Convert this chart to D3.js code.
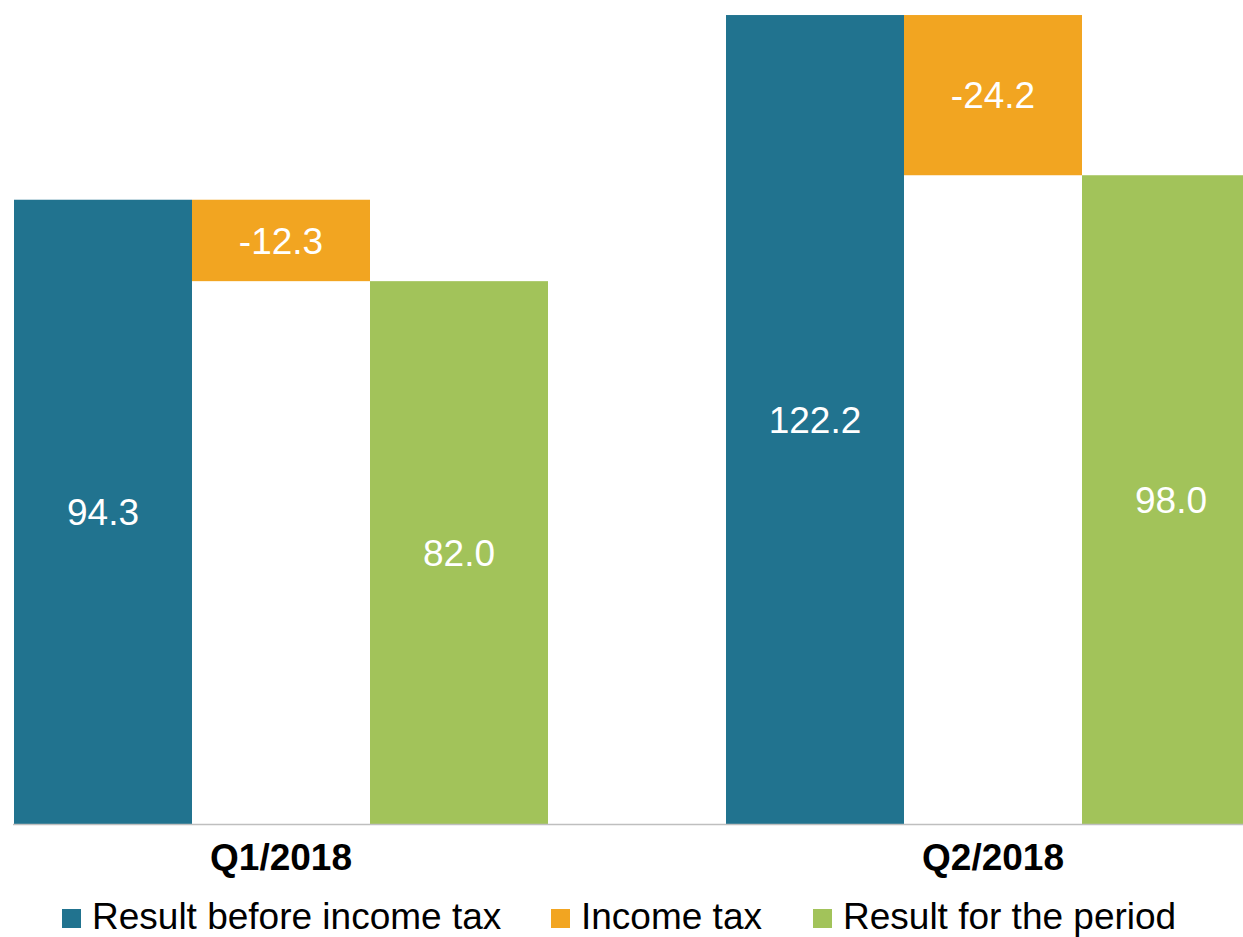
<!DOCTYPE html>
<html><head><meta charset="utf-8">
<script src="https://cdn.jsdelivr.net/npm/d3@7"></script>
<style>html,body{margin:0;padding:0;background:#fff;}svg{display:block;}</style>
</head><body>
<svg id="chart" width="1243" height="937"></svg>
<script>
const categories = ["Q1/2018", "Q2/2018"];
const seriesNames = ["Result before income tax", "Income tax", "Result for the period"];
const resultBeforeTax = [94.3, 122.2];
const incomeTax = [-12.3, -24.2];
const resultForPeriod = [82.0, 98.0];
const colors = ["#21738f", "#f2a521", "#a2c35a"];

const svg = d3.select("#chart");
const W = 1243, H = 937;
const baseY = 824;
const font = "'Liberation Sans', Arial, Helvetica, sans-serif";

const x0 = d3.scaleBand().domain(categories).range([-75, 1349]).paddingInner(0.25).paddingOuter(0.125);
const x1 = d3.scaleBand().domain(seriesNames).range([0, x0.bandwidth()]).padding(0);
const y = d3.scaleLinear().domain([0, 125]).range([baseY, baseY - 125 * 6.62]);

const bars = [];
categories.forEach((c, i) => {
  bars.push({cat: c, s: 0, lo: 0, hi: resultBeforeTax[i], v: resultBeforeTax[i]});
  bars.push({cat: c, s: 1, lo: resultBeforeTax[i] + incomeTax[i], hi: resultBeforeTax[i], v: incomeTax[i]});
  bars.push({cat: c, s: 2, lo: 0, hi: resultForPeriod[i], v: resultForPeriod[i]});
});

const g = svg.append("g");
g.selectAll("rect.bar").data(bars).join("rect")
  .attr("class", "bar")
  .attr("x", d => x0(d.cat) + x1(seriesNames[d.s]))
  .attr("width", x1.bandwidth())
  .attr("y", d => y(d.hi))
  .attr("height", d => y(d.lo) - y(d.hi))
  .attr("fill", d => colors[d.s]);

g.selectAll("text.val").data(bars).join("text")
  .attr("class", "val")
  .attr("x", d => x0(d.cat) + x1(seriesNames[d.s]) + x1.bandwidth() / 2)
  .attr("y", d => (y(d.lo) + y(d.hi)) / 2)
  .attr("dy", "0.36em")
  .attr("text-anchor", "middle")
  .attr("fill", "#fff")
  .style("font-family", font)
  .style("font-size", "37px")
  .text(d => d.v.toFixed(1));

// axis
const axis = d3.axisBottom(x0).tickSize(0).tickPadding(20);
const ax = svg.append("g").attr("transform", `translate(0,${baseY})`).call(axis);
ax.select(".domain").attr("d", `M13,0.5H${W}`).attr("stroke", "#bfbfbf").attr("stroke-width", 1.5);
ax.selectAll(".tick text")
  .style("font-family", font).style("font-size", "37px").style("font-weight", "bold")
  .attr("fill", "#000");

// legend
const legendItems = [
  {name: seriesNames[0], x: 92},
  {name: seriesNames[1], x: 581},
  {name: seriesNames[2], x: 843}
];
const lg = svg.append("g");
legendItems.forEach((it, i) => {
  lg.append("rect").attr("x", it.x - 30).attr("y", 909).attr("width", 19).attr("height", 19).attr("fill", colors[i]);
  lg.append("text").attr("x", it.x).attr("y", 929)
    .style("font-family", font).style("font-size", "37px").attr("fill", "#000")
    .text(it.name);
});
</script>
</body></html>
